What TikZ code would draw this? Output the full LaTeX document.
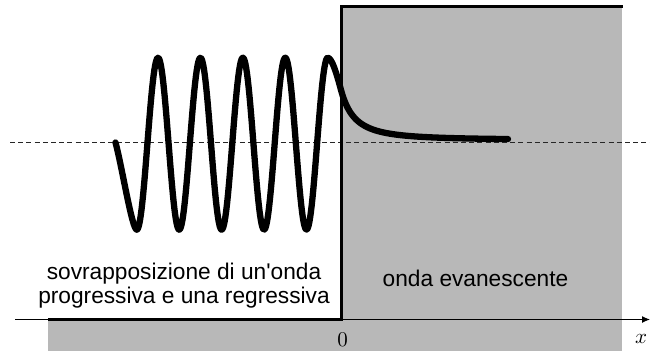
\documentclass[tikz,border=0pt]{standalone}
\usepackage{fontspec}
\usepackage{graphicx}
\newfontfamily\labfont{Liberation Sans}
\usetikzlibrary{arrows.meta}
\definecolor{regiongray}{RGB}{184,184,184}
\tikzset{
  region/.style={fill=regiongray, draw=none},
  wall/.style={line width=3pt, line join=miter},
  wavecurve/.style={line width=6.3pt, line cap=round, line join=round},
  axisline/.style={line width=1pt, -{Latex[length=8pt,width=7pt]}},
  refline/.style={line width=0.8pt, black!85, dash pattern=on 5pt off 3.2pt},
  sanslabel/.style={font=\labfont\fontsize{22.7}{24}\selectfont, inner sep=0pt, align=center},
  mathlabel/.style={inner sep=0pt}
}
\begin{document}
\begin{tikzpicture}[x=1pt,y=-1pt]
\useasboundingbox (0,0) rectangle (650,351);
% regions
\fill[region] (341.5,6) rectangle (621.7,351);
\fill[region] (48.3,319.5) rectangle (621.7,351);
% reference (dashed) line
\coordinate (dl) at (10,142.7);
\coordinate (dr) at (650,142.7);
\draw[refline] (dl) -- (dr);
% x axis
\coordinate (al) at (15,319.5);
\coordinate (ar) at (650,319.5);
\draw[axisline] (al) -- (ar);
% potential step
\coordinate (p1) at (48.3,319.5);
\coordinate (p2) at (341.5,319.5);
\coordinate (p3) at (341.5,6);
\coordinate (p4) at (623,6);
\draw[wall] (p1) -- (p2) -- (p3) -- (p4);
% wave
\draw[wavecurve] (115.5,142.5) .. controls (122,166.5) and (132,229.7) .. (136.8,229.7)
  -- plot[domain=136.8:327.7, samples=240] (\x, {143.7 + 86*cos((\x-136.8)*8.48656)})
  .. controls (332,57.7) and (337,75) .. (341,90)
  -- plot[domain=341:508, samples=120] (\x, {140 - 50/((1+(\x-341)/27)^2)});
% labels
\node[sanslabel, anchor=base] (lefttext) at (184,303.5) {sovrapposizione di un'onda\\progressiva e una regressiva};
\node[sanslabel, anchor=base] (righttext) at (475.5,286) {onda evanescente};
\node[mathlabel, anchor=base] (zero) at (342.5,346.5) {\scalebox{2.1}{$0$}};
\node[mathlabel, anchor=base] (xlab) at (641,343.3) {\scalebox{2.1}{$x$}};
\end{tikzpicture}
\end{document}
